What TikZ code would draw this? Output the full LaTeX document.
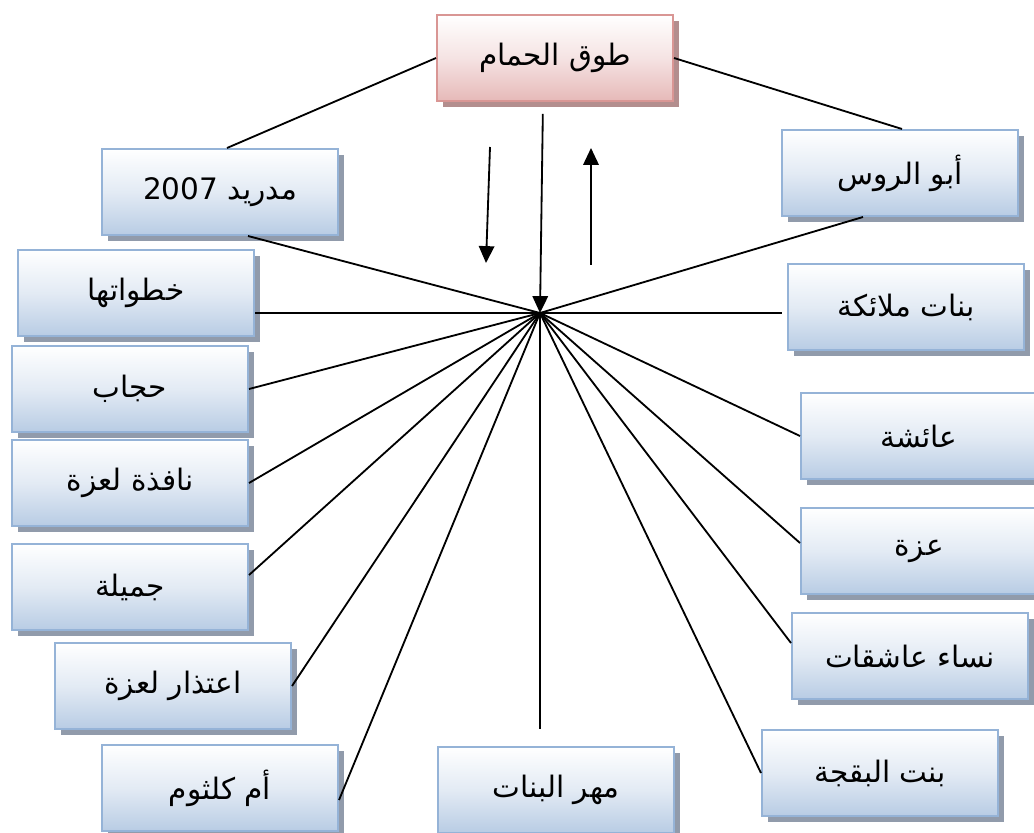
\documentclass[tikz,border=0pt]{standalone}
\usepackage{fontspec}
\newfontfamily\arabicfont[Script=Arabic]{DejaVu Sans}
\TeXXeTstate=1
\usepackage{xcolor}
\usetikzlibrary{arrows.meta}
\usetikzlibrary{calc, positioning, shadows}
\definecolor{boxblue}{HTML}{B8CCE4}
\definecolor{boxedge}{HTML}{95B3D7}
\definecolor{boxshade}{HTML}{919BAB}
\definecolor{pinkbox}{HTML}{E6B9B8}
\definecolor{pinkedge}{HTML}{D99694}
\definecolor{pinkshade}{HTML}{B38E8E}
\tikzstyle{film}=[rectangle, draw=boxedge, line width=1.4pt, minimum width=5.9cm, minimum height=2.15cm,
  top color=white, bottom color=boxblue, middle color=boxblue!40,
  drop shadow={shadow xshift=4pt, shadow yshift=-4pt, fill=boxshade, opacity=1},
  font=\arabicfont\fontsize{21pt}{24pt}\selectfont]
\tikzstyle{novel}=[film, draw=pinkedge, bottom color=pinkbox, middle color=pinkbox!40,
  drop shadow={shadow xshift=4pt, shadow yshift=-4pt, fill=pinkshade, opacity=1}]

\begin{document}
\begin{tikzpicture}[x=0.025cm, y=-0.025cm]

\tikzset{>={Triangle[length=12pt, width=11pt]}}
\tikzset{every path/.style={line width=1.3pt}}

\useasboundingbox (0,0) rectangle (1034,833);

% Central novel
\node[novel] (tawq) at (555,58) {\beginR طوق الحمام\endR};

% Works round it
\node[film] (madrid)   at (220,192) {\beginR مدريد \beginL 2007\endL\endR};
\node[film] (abu)      at (900,173) {\beginR أبو الروس\endR};
\node[film] (khutuwat) at (136,293) {\beginR خطواتها\endR};
\node[film] (malaika)  at (906,307) {\beginR بنات ملائكة\endR};
\node[film] (hijab)    at (130,389) {\beginR حجاب\endR};
\node[film] (aisha)    at (919,436) {\beginR عائشة\endR};
\node[film] (nafidha)  at (130,483) {\beginR نافذة لعزة\endR};
\node[film] (azza)     at (919,551) {\beginR عزة\endR};
\node[film] (jamila)   at (130,587) {\beginR جميلة\endR};
\node[film] (nisa)     at (910,656) {\beginR نساء عاشقات\endR};
\node[film] (itidhar)  at (173,686) {\beginR اعتذار لعزة\endR};
\node[film] (bint)     at (880,773) {\beginR بنت البقجة\endR};
\node[film] (umm)      at (220,788) {\beginR أم كلثوم\endR};
\node[film] (mahr)     at (556,790) {\beginR مهر البنات\endR};

% Hub
\coordinate (hub) at (540,313);

% Arrows
\draw[->, shorten <=8.5pt] ($(tawq.south)+(-12,0)$) -- (hub); % tawq -> hub
\coordinate (downtop) at (490,147);
\coordinate (downend) at (486,263);
\draw[->] (downtop) -- (downend);
\coordinate (uptop) at (591,148);
\coordinate (upend) at (591,265);
\draw[->] (upend) -- (uptop);

% Top links
\draw (tawq.west) -- ($(madrid.north)+(7,0)$); % tawq -> madrid
\draw (tawq.east) -- ($(abu.north)+(2,0)$); % tawq -> abu

% Spokes
\draw (hub) -- ($(madrid.south)+(28,0)$);
\draw (hub) -- ($(abu.south)+(-37,0)$);
\draw (hub) -- (hub -| khutuwat.east);
\draw (hub) -- ($(hub -| malaika.west)+(-5,0)$);
\draw (hub) -- (hijab.east);
\draw (hub) -- (aisha.west);
\draw (hub) -- (nafidha.east);
\draw (hub) -- ($(azza.west)+(0,-8)$);
\draw (hub) -- ($(jamila.east)+(0,-12)$);
\draw (hub) -- ($(nisa.west)+(0,-13)$);
\draw (hub) -- (itidhar.east);
\draw (hub) -- (bint.west);
\draw (hub) -- ($(umm.east)+(0,12)$);
\draw[shorten >=12pt] (hub) -- (hub |- mahr.north);

\end{tikzpicture}
\end{document}
